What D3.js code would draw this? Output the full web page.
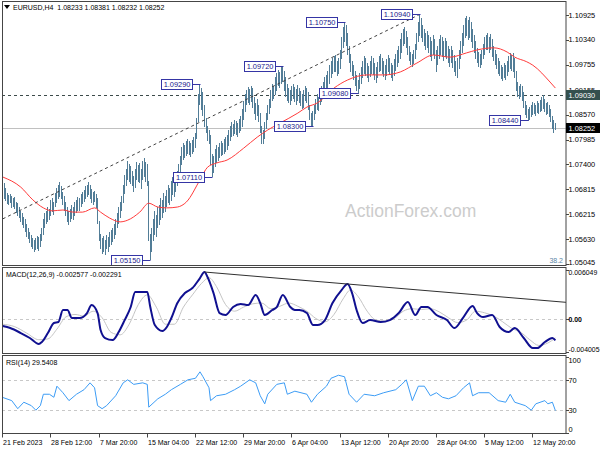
<!DOCTYPE html>
<html><head><meta charset="utf-8">
<script src="https://cdn.jsdelivr.net/npm/d3@7"></script>
<style>
body{margin:0;background:#fff}
svg{display:block}
text{font-family:"Liberation Sans",Arial,sans-serif}
</style>
</head><body><svg id="c" width="600" height="450"></svg>
<script>
// ---------------- DATA ----------------
const symbolTitle = "EURUSD,H4  1.08233 1.08381 1.08232 1.08252";
const macdTitle = "MACD(12,26,9) -0.002577 -0.002291";
const rsiTitle = "RSI(14) 29.5408";
const watermark = "ActionForex.com";

// H4 bars: [high, low], one per bar, bar 0 = 21 Feb 2023 00:00
const barHighLow = [
[1.0690,1.0668],[1.0696,1.0660],[1.0685,1.0655],[1.0672,1.0648],[1.0668,1.0645],[1.0670,1.0650],[1.0665,1.0638],[1.0660,1.0640],
[1.0662,1.0635],[1.0650,1.0625],[1.0648,1.0618],[1.0640,1.0615],[1.0630,1.0605],[1.0625,1.0598],[1.0615,1.0590],[1.0610,1.0582],
[1.0598,1.0570],[1.0590,1.0565],[1.0580,1.0555],[1.0572,1.0545],[1.0565,1.0540],[1.0560,1.0535],[1.0566,1.0538],[1.0570,1.0542],
[1.0568,1.0536],[1.0575,1.0545],[1.0590,1.0560],[1.0610,1.0575],[1.0625,1.0590],[1.0630,1.0600],[1.0640,1.0605],[1.0635,1.0610],
[1.0655,1.0620],[1.0660,1.0628],[1.0650,1.0622],[1.0672,1.0640],[1.0685,1.0650],[1.0690,1.0660],[1.0697,1.0665],[1.0688,1.0658],
[1.0675,1.0645],[1.0665,1.0632],[1.0650,1.0620],[1.0640,1.0605],[1.0630,1.0598],[1.0635,1.0605],[1.0645,1.0612],[1.0640,1.0610],
[1.0650,1.0618],[1.0655,1.0625],[1.0662,1.0630],[1.0660,1.0632],[1.0670,1.0640],[1.0675,1.0648],[1.0680,1.0652],[1.0688,1.0660],
[1.0692,1.0665],[1.0698,1.0668],[1.0690,1.0660],[1.0682,1.0650],[1.0675,1.0645],[1.0678,1.0652],[1.0670,1.0638],[1.0660,1.0600],
[1.0605,1.0560],[1.0575,1.0540],[1.0565,1.0530],[1.0570,1.0535],[1.0560,1.0528],[1.0572,1.0540],[1.0568,1.0535],[1.0580,1.0545],
[1.0585,1.0550],[1.0590,1.0558],[1.0598,1.0565],[1.0610,1.0575],[1.0625,1.0590],[1.0640,1.0600],[1.0650,1.0615],[1.0665,1.0630],
[1.0690,1.0650],[1.0715,1.0670],[1.0730,1.0690],[1.0748,1.0705],[1.0740,1.0700],[1.0735,1.0695],[1.0725,1.0690],[1.0712,1.0675],
[1.0728,1.0685],[1.0745,1.0705],[1.0738,1.0700],[1.0742,1.0698],[1.0730,1.0682],[1.0748,1.0705],[1.0755,1.0712],[1.0745,1.0700],
[1.0740,1.0690],[1.0700,1.0560],[1.0575,1.0515],[1.0590,1.0535],[1.0610,1.0560],[1.0630,1.0575],[1.0620,1.0570],[1.0640,1.0590],
[1.0645,1.0598],[1.0660,1.0610],[1.0655,1.0615],[1.0672,1.0625],[1.0665,1.0628],[1.0680,1.0640],[1.0690,1.0650],[1.0685,1.0645],
[1.0700,1.0655],[1.0710,1.0668],[1.0705,1.0665],[1.0718,1.0675],[1.0725,1.0690],[1.0740,1.0700],[1.0760,1.0720],[1.0780,1.0740],
[1.0790,1.0752],[1.0785,1.0755],[1.0795,1.0760],[1.0800,1.0765],[1.0795,1.0762],[1.0790,1.0758],[1.0798,1.0765],[1.0805,1.0770],
[1.0815,1.0780],[1.0850,1.0800],[1.0905,1.0840],[1.0929,1.0880],[1.0920,1.0870],[1.0910,1.0855],[1.0880,1.0830],[1.0850,1.0815],
[1.0830,1.0795],[1.0820,1.0790],[1.0810,1.0740],[1.0765,1.0711],[1.0760,1.0720],[1.0775,1.0735],[1.0785,1.0745],[1.0780,1.0750],
[1.0790,1.0755],[1.0795,1.0760],[1.0790,1.0762],[1.0800,1.0765],[1.0805,1.0770],[1.0810,1.0775],[1.0820,1.0785],[1.0830,1.0795],
[1.0840,1.0805],[1.0835,1.0808],[1.0845,1.0812],[1.0842,1.0810],[1.0838,1.0805],[1.0848,1.0815],[1.0855,1.0820],[1.0870,1.0830],
[1.0890,1.0845],[1.0905,1.0865],[1.0915,1.0880],[1.0922,1.0885],[1.0918,1.0880],[1.0925,1.0888],[1.0920,1.0875],[1.0900,1.0860],
[1.0885,1.0845],[1.0895,1.0855],[1.0880,1.0840],[1.0860,1.0815],[1.0830,1.0790],[1.0820,1.0788],[1.0840,1.0800],[1.0860,1.0825],
[1.0880,1.0845],[1.0895,1.0860],[1.0915,1.0875],[1.0930,1.0890],[1.0925,1.0895],[1.0945,1.0905],[1.0955,1.0915],[1.0962,1.0925],
[1.0958,1.0922],[1.0970,1.0930],[1.0972,1.0935],[1.0960,1.0915],[1.0945,1.0900],[1.0930,1.0890],[1.0920,1.0885],[1.0915,1.0880],
[1.0925,1.0890],[1.0930,1.0895],[1.0922,1.0888],[1.0918,1.0880],[1.0928,1.0890],[1.0920,1.0885],[1.0912,1.0878],[1.0905,1.0872],
[1.0915,1.0875],[1.0925,1.0890],[1.0920,1.0885],[1.0910,1.0870],[1.0880,1.0845],[1.0860,1.0830],[1.0865,1.0830],[1.0880,1.0845],
[1.0895,1.0860],[1.0905,1.0870],[1.0900,1.0868],[1.0915,1.0880],[1.0925,1.0888],[1.0935,1.0895],[1.0945,1.0905],[1.0950,1.0915],
[1.0960,1.0920],[1.0975,1.0930],[1.0985,1.0945],[1.0990,1.0955],[1.0995,1.0958],[1.0998,1.0960],[1.0985,1.0950],[1.0990,1.0955],
[1.1010,1.0965],[1.1040,1.0990],[1.1065,1.1015],[1.1075,1.1030],[1.1068,1.1020],[1.1050,1.1000],[1.1020,1.0980],[1.1000,1.0960],
[1.0985,1.0950],[1.0975,1.0940],[1.0960,1.0925],[1.0950,1.0915],[1.0940,1.0908],[1.0955,1.0920],[1.0970,1.0930],[1.0985,1.0945],
[1.0995,1.0955],[1.0990,1.0950],[1.0980,1.0945],[1.0972,1.0935],[1.0985,1.0948],[1.0995,1.0955],[1.0990,1.0952],[1.0978,1.0940],
[1.0970,1.0932],[1.0982,1.0945],[1.0995,1.0958],[1.1000,1.0962],[1.0992,1.0955],[1.0985,1.0948],[1.0975,1.0940],[1.0988,1.0950],
[1.0998,1.0960],[1.0990,1.0955],[1.0980,1.0945],[1.0975,1.0938],[1.0988,1.0950],[1.1000,1.0962],[1.1010,1.0970],[1.1020,1.0980],
[1.1035,1.0990],[1.1050,1.1005],[1.1060,1.1020],[1.1064,1.1025],[1.1055,1.1015],[1.1040,1.1000],[1.1020,1.0985],[1.1005,1.0975],
[1.1000,1.0970],[1.1010,1.0978],[1.1025,1.0990],[1.1050,1.1010],[1.1075,1.1030],[1.1094,1.1045],[1.1085,1.1040],[1.1070,1.1030],
[1.1060,1.1020],[1.1050,1.1010],[1.1055,1.1015],[1.1045,1.1005],[1.1040,1.0995],[1.1030,1.0985],[1.1045,1.1000],[1.1035,1.0990],
[1.1010,1.0960],[1.1020,1.0975],[1.1035,1.0990],[1.1045,1.1000],[1.1040,1.0995],[1.1030,1.0985],[1.1038,1.0995],[1.1030,1.0990],
[1.1020,1.0980],[1.1012,1.0972],[1.1020,1.0980],[1.1010,1.0968],[1.0998,1.0958],[1.0985,1.0950],[1.0990,1.0944],[1.1010,1.0965],
[1.1030,1.0990],[1.1050,1.1005],[1.1068,1.1020],[1.1085,1.1040],[1.1090,1.1045],[1.1080,1.1035],[1.1088,1.1040],[1.1075,1.1030],
[1.1060,1.1015],[1.1045,1.1005],[1.1030,1.0990],[1.1015,1.0980],[1.1005,1.0972],[1.1000,1.0968],[1.1010,1.0975],[1.1025,1.0990],
[1.1040,1.1000],[1.1045,1.1010],[1.1050,1.1012],[1.1040,1.1005],[1.1048,1.1010],[1.1035,1.0995],[1.1020,1.0985],[1.1010,1.0975],
[1.1000,1.0965],[1.0990,1.0955],[1.0985,1.0950],[1.0975,1.0942],[1.0970,1.0938],[1.0980,1.0945],[1.0975,1.0940],[1.0985,1.0950],
[1.0995,1.0960],[1.1003,1.0965],[1.0998,1.0962],[1.1003,1.0960],[1.0990,1.0945],[1.0960,1.0915],[1.0935,1.0900],[1.0925,1.0895],
[1.0930,1.0900],[1.0925,1.0890],[1.0910,1.0875],[1.0890,1.0858],[1.0880,1.0850],[1.0870,1.0844],[1.0875,1.0845],[1.0880,1.0852],
[1.0888,1.0858],[1.0885,1.0860],[1.0880,1.0855],[1.0890,1.0862],[1.0885,1.0860],[1.0892,1.0865],[1.0898,1.0868],[1.0903,1.0872],
[1.0895,1.0865],[1.0885,1.0858],[1.0888,1.0860],[1.0880,1.0852],[1.0870,1.0840],[1.0855,1.0825],[1.0845,1.0814],[1.08381,1.08232]
];
const lastClose = 1.08252;
const levelPrice = 1.09030;

// moving average (red) sampled at bar indices
const maIdx = [0,12,20,27,33,40,47,53,61,65,71,78,83,91,97,103,109,116,122,131,136,142,149,160,169,176,184,196,202,209,220,229,242,253,264,275,286,297,308,315,326,335,340,348,352,364,367];
const maVal = [1.0710,1.0686,1.0656,1.0637,1.0630,1.0632,1.0627,1.0627,1.0637,1.0627,1.0613,1.0604,1.0608,1.0627,1.0648,1.0639,1.0637,1.0639,1.0651,1.0703,1.0733,1.0743,1.0750,1.0778,1.0804,1.0821,1.0837,1.0861,1.0875,1.0885,1.0920,1.0939,1.0951,1.0951,1.0958,1.0979,1.0998,1.0993,1.1003,1.1010,1.1015,1.1005,1.0993,1.0982,1.0974,1.0932,1.0920];

// MACD main line
const macdIdx = [0,5,12,18,24,26,30,34,37,40,43,46,51,56,59,63,65,68,73,77,81,85,88,96,98,101,106,109,112,116,121,126,131,134,136,140,144,148,153,158,163,168,171,174,179,182,186,191,194,197,202,206,209,214,219,225,229,232,235,239,244,251,257,263,269,274,278,282,288,295,300,306,312,315,319,325,330,336,340,346,352,355,360,365,367];
const macdVal = [-0.00082,-0.00107,-0.00168,-0.00229,-0.00303,-0.00278,-0.00168,-0.00045,-0.00033,0.00114,0.00114,0.00016,0.00016,0.00077,0.00175,0.00077,-0.00131,-0.00229,-0.00254,-0.00156,-0.00009,0.00151,0.00335,0.00335,0.00151,-0.00070,-0.00143,-0.00094,0.00016,0.00200,0.00322,0.00384,0.00506,0.00580,0.00519,0.00322,0.00077,0.00053,0.00151,0.00188,0.00175,0.00298,0.00200,0.00053,0.00114,0.00151,0.00298,0.00151,0.00114,0.00114,0.00077,-0.00070,-0.00070,-0.00009,0.00200,0.00359,0.00433,0.00322,0.00114,-0.00045,-0.00009,-0.00033,-0.00009,0.00077,0.00212,0.00053,0.00151,0.00151,0.00053,-0.00009,-0.00107,0.00028,0.00163,0.00077,0.00028,0.00053,-0.00094,-0.00156,-0.00107,-0.00229,-0.00352,-0.00352,-0.00278,-0.00229,-0.00258];
// MACD signal line
const sigIdx = [0,8,16,24,30,36,42,48,54,60,66,72,78,84,90,96,102,108,114,120,126,132,137,142,148,154,160,166,172,178,184,190,196,202,208,214,220,226,231,236,242,248,254,260,266,272,278,284,290,296,302,308,314,320,326,332,338,344,350,356,362,367];
const sigVal = [-0.0006,-0.0009,-0.0017,-0.0025,-0.0024,-0.0012,0.0003,0.0006,0.0004,0.0010,0.0002,-0.0016,-0.0019,-0.0006,0.0018,0.0030,0.0015,-0.0006,-0.0006,0.0015,0.0030,0.0044,0.0051,0.0040,0.0018,0.0010,0.0015,0.0019,0.0020,0.0013,0.0016,0.0020,0.0016,0.0010,0.0001,-0.0003,0.0006,0.0025,0.0036,0.0028,0.0010,-0.0001,-0.0002,0.0001,0.0010,0.0013,0.0012,0.0013,0.0009,0.0002,-0.0004,-0.0001,0.0010,0.0008,0.0004,-0.0003,-0.0011,-0.0016,-0.0025,-0.0032,-0.0029,-0.00229];
// MACD trendline anchors (two peaks), extended to the right edge
const macdTrendIdx = [134, 229];
const macdTrendVal = [0.00580, 0.00433];

// RSI(14)
const rsiIdx = [0,6,10,14,19,22,25,27,31,34,36,40,44,49,54,58,61,63,66,69,75,80,83,87,93,96,97,103,108,112,118,123,128,131,133,137,138,142,148,154,158,164,168,171,174,176,182,187,189,194,202,205,209,215,218,223,227,230,235,240,247,253,261,265,268,272,276,280,284,288,292,296,301,306,310,312,316,323,329,334,337,340,347,351,354,360,362,365,367];
const rsiVal = [46.8,42.6,32,40.5,36,30,36,51,51,47,61.6,53,42.6,51,57,66,59.5,36,32,36,49,66,70,64,66,64,34,45,51,57,64,70,72,80.5,74,59.5,42.6,49,51,57,61.6,70,66,49,38.4,51,64,66,51,55,51,40.5,51,61.6,72,76,74,51,40.5,51,49,53,57,64,70,42.6,61.6,61.6,49,53,47,45,49,59.5,66,49,53,53,42.6,40.5,51,40.5,36,30,38.4,42.6,38.4,40.5,29.54];

// swing annotations
const annoIdx = [98,139,131,186,206,236,227,277,349];
const annoPrice = [1.05150,1.07110,1.09290,1.09720,1.08300,1.09080,1.10750,1.10940,1.08440];

// dashed price trendline anchors
const trendIdx = [0, 277];
const trendPrice = [1.0611, 1.1094];

// axis ticks
const priceTicks = [1.10925,1.10340,1.09755,1.09155,1.08570,1.07985,1.07400,1.06815,1.06215,1.05630,1.05045];
const macdTicks = [0.006049, 0, -0.004005];
const macdTickLabels = ["0.006049","0.00","-0.004005"];
const rsiTicks = [100,70,30,0];
const rsiLevels = [70,30];
const timeTickIdx = [0,32,64,96,128,160,192,224,256,288,320,352];
const timeTickLabels = ["21 Feb 2023","28 Feb 12:00","7 Mar 20:00","15 Mar 04:00","22 Mar 12:00","29 Mar 20:00","6 Apr 04:00","13 Apr 12:00","20 Apr 20:00","28 Apr 04:00","5 May 12:00","12 May 20:00"];
const fibLabel = "38.2";

// ---------------- LAYOUT ----------------
const svg = d3.select('#c');
const L = 2, R = 566;
const pMain = {top:1.5, bottom:265.5};
const pMacd = {top:267.5, bottom:353.5};
const pRsi = {top:355.5, bottom:433.5};

const x = d3.scaleLinear().domain([0,352]).range([2.7,532.8]);
const yP = d3.scaleLinear().domain([1.05045,1.10925]).range([264,15]);
const yM = d3.scaleLinear().domain([-0.004005,0.006049]).range([352,270]);
const yR = d3.scaleLinear().domain([0,100]).range([433,357]);

const defs = svg.append('defs');
function clip(id,p){
  defs.append('clipPath').attr('id',id).append('rect')
    .attr('x',L).attr('y',p.top).attr('width',R-L).attr('height',p.bottom-p.top);
}
clip('cMain',pMain); clip('cMacd',pMacd); clip('cRsi',pRsi);

const FONT = 7.4;

// ---------- main panel ----------
const gm = svg.append('g').attr('clip-path','url(#cMain)');
gm.append('line').attr('x1',L).attr('x2',R).attr('y1',Math.round(yP(lastClose))+0.5).attr('y2',Math.round(yP(lastClose))+0.5)
  .attr('stroke','#c0c0c0').attr('stroke-width',1);
gm.append('line').attr('x1',L).attr('x2',R).attr('y1',Math.round(yP(levelPrice))+0.5).attr('y2',Math.round(yP(levelPrice))+0.5)
  .attr('stroke','#3c4a4a').attr('stroke-width',1).attr('stroke-dasharray','3,3');

svg.append('text').attr('x',345).attr('y',217).attr('font-size',17.5).attr('fill','#cccccc').text(watermark);

gm.append('g').selectAll('line').data(barHighLow).join('line')
  .attr('x1',(d,i)=>Math.floor(x(i))+0.5).attr('x2',(d,i)=>Math.floor(x(i))+0.5)
  .attr('y1',d=>yP(d[0])).attr('y2',d=>yP(d[1])+0.5)
  .attr('stroke','#527d97').attr('stroke-width',1).attr('shape-rendering','crispEdges');

gm.append('path').datum(maIdx.map((d,i)=>[d,maVal[i]]))
  .attr('d',d3.line().x(d=>x(d[0])).y(d=>yP(d[1])).curve(d3.curveMonotoneX))
  .attr('fill','none').attr('stroke','#ff3b3b').attr('stroke-width',1);

gm.append('line')
  .attr('x1',x(trendIdx[0])).attr('y1',yP(trendPrice[0]))
  .attr('x2',x(trendIdx[1])).attr('y2',yP(trendPrice[1]))
  .attr('stroke','#404040').attr('stroke-width',1).attr('stroke-dasharray','3,3');

const ga = svg.append('g');
annoIdx.forEach((bi,k)=>{
  const px = x(bi), py = Math.round(yP(annoPrice[k]))+0.5;
  const bw = 31, bh = 10, right = Math.round(px - 8)+0.5;
  ga.append('line').attr('x1',right).attr('x2',Math.round(px)+0.5).attr('y1',py).attr('y2',py)
    .attr('stroke','#3535a5').attr('stroke-width',1);
  ga.append('rect').attr('x',right-bw).attr('y',py-bh/2).attr('width',bw).attr('height',bh)
    .attr('fill','#fff').attr('stroke','#3535a5').attr('stroke-width',1);
  ga.append('text').attr('x',right-bw/2).attr('y',py+2.8).attr('text-anchor','middle')
    .attr('font-size',FONT).attr('fill','#20208c').text(annoPrice[k].toFixed(5));
});

svg.append('text').attr('x',563).attr('y',263).attr('text-anchor','end').attr('font-size',7)
  .attr('fill','#5b86a6').text(fibLabel);

svg.append('path').attr('d','M4,5 L10,5 L7,9 Z').attr('fill','#000');
svg.append('text').attr('x',13).attr('y',10).attr('font-size',7).attr('fill','#000').style('white-space','pre').text(symbolTitle);

// ---------- MACD panel ----------
const gc = svg.append('g').attr('clip-path','url(#cMacd)');
gc.append('line').attr('x1',L).attr('x2',R).attr('y1',Math.round(yM(0))+0.5).attr('y2',Math.round(yM(0))+0.5)
  .attr('stroke','#c8c8c8').attr('stroke-dasharray','3,3');
gc.append('path').datum(sigIdx.map((d,i)=>[d,sigVal[i]]))
  .attr('d',d3.line().x(d=>x(d[0])).y(d=>yM(d[1])).curve(d3.curveMonotoneX))
  .attr('fill','none').attr('stroke','#c4c4c4').attr('stroke-width',1);
gc.append('path').datum(macdIdx.map((d,i)=>[d,macdVal[i]]))
  .attr('d',d3.line().x(d=>x(d[0])).y(d=>yM(d[1])).curve(d3.curveMonotoneX))
  .attr('fill','none').attr('stroke','#101090').attr('stroke-width',2);
{
  const endIdx = x.invert(R);
  const slope = (macdTrendVal[1]-macdTrendVal[0])/(macdTrendIdx[1]-macdTrendIdx[0]);
  const endVal = macdTrendVal[0] + slope*(endIdx - macdTrendIdx[0]);
  gc.append('line').attr('x1',x(macdTrendIdx[0])).attr('y1',yM(macdTrendVal[0]))
    .attr('x2',x(endIdx)).attr('y2',yM(endVal)).attr('stroke','#303030').attr('stroke-width',1);
}
svg.append('text').attr('x',6).attr('y',277).attr('font-size',7).attr('fill','#000').text(macdTitle);

// ---------- RSI panel ----------
const gr = svg.append('g').attr('clip-path','url(#cRsi)');
rsiLevels.forEach(v=>{
  gr.append('line').attr('x1',L).attr('x2',R).attr('y1',Math.round(yR(v))+0.5).attr('y2',Math.round(yR(v))+0.5)
    .attr('stroke','#c8c8c8').attr('stroke-dasharray','3,3');
});
gr.append('path').datum(rsiIdx.map((d,i)=>[d,rsiVal[i]]))
  .attr('d',d3.line().x(d=>x(d[0])).y(d=>yR(d[1])))
  .attr('fill','none').attr('stroke','#3c9cf5').attr('stroke-width',1);
svg.append('text').attr('x',6).attr('y',365).attr('font-size',7).attr('fill','#000').text(rsiTitle);

// ---------- frames ----------
[pMain,pMacd,pRsi].forEach(p=>{
  svg.append('rect').attr('x',L+0.5).attr('y',p.top).attr('width',R-L-0.5).attr('height',p.bottom-p.top)
    .attr('fill','none').attr('stroke','#454545').attr('stroke-width',1);
});

// ---------- right axes ----------
const gAx = svg.append('g');
function rightLabels(ticks, labels, scale, p, fs){
  ticks.forEach((v,k)=>{
    let y = scale(v);
    gAx.append('line').attr('x1',R).attr('x2',R+3).attr('y1',Math.round(y)+0.5).attr('y2',Math.round(y)+0.5)
      .attr('stroke','#454545');
    const ly = Math.max(p.top+5, Math.min(p.bottom-4, y));
    gAx.append('text').attr('x',R+2.5).attr('y',ly+2.7).attr('font-size',fs).attr('fill','#000')
      .attr('font-weight', labels[k]==="0.00" ? 'bold' : 'normal').text(labels[k]);
  });
}
rightLabels(priceTicks, priceTicks.map(v=>v.toFixed(5)), yP, {top:pMain.top+9,bottom:pMain.bottom+1}, FONT);
rightLabels(macdTicks, macdTickLabels, yM, pMacd, 6.9);
rightLabels(rsiTicks, rsiTicks.map(String), yR, pRsi, FONT);

function priceBox(v, fill){
  const y = Math.round(yP(v));
  gAx.append('rect').attr('x',R).attr('y',y-5).attr('width',600-R).attr('height',10).attr('fill',fill);
  gAx.append('text').attr('x',R+2.5).attr('y',y+2.7).attr('font-size',FONT).attr('fill','#fff').text(v.toFixed(5));
}
priceBox(levelPrice,'#34504e');
priceBox(lastClose,'#000');

// ---------- time axis ----------
timeTickIdx.forEach((bi,k)=>{
  const tx = Math.floor(x(bi))+0.5;
  gAx.append('line').attr('x1',tx).attr('x2',tx).attr('y1',pRsi.bottom).attr('y2',pRsi.bottom+4).attr('stroke','#454545');
  gAx.append('text').attr('x',tx+0.5).attr('y',445).attr('font-size',7).attr('fill','#000').text(timeTickLabels[k]);
});
</script>
</body></html>
